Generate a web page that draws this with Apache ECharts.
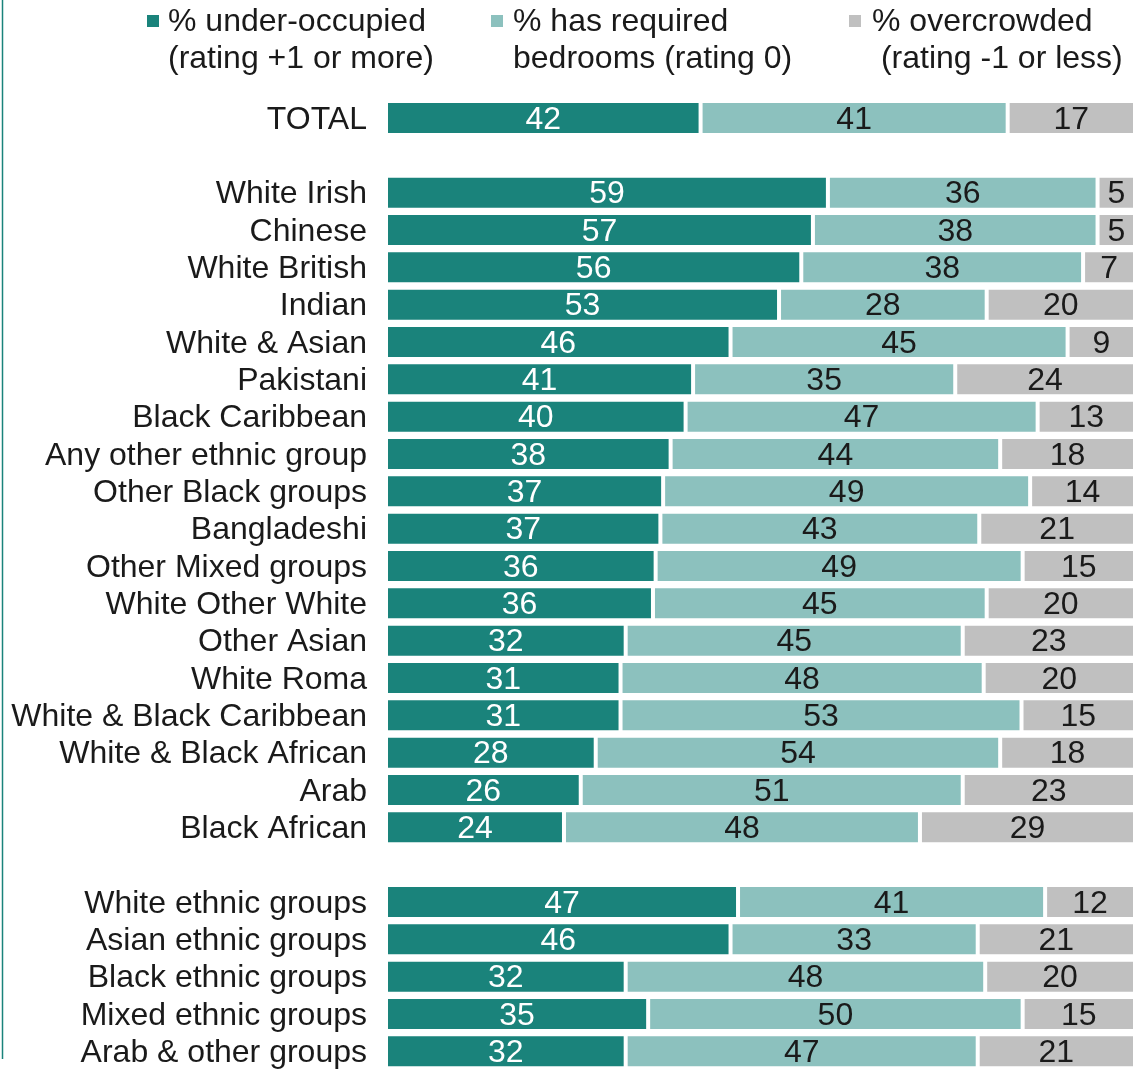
<!DOCTYPE html>
<html>
<head>
<meta charset="utf-8">
<title>Bedroom occupancy rating by ethnic group</title>
<script src="https://cdn.jsdelivr.net/npm/echarts@6/dist/echarts.min.js"></script>
<style>
  html, body { margin: 0; padding: 0; background: #ffffff; }
  #chart { width: 1142px; height: 1070px; }
</style>
</head>
<body>
<div id="chart"></div>
<script>
// Rows from top to bottom; empty strings are spacer rows between groups
const categories = [
  'TOTAL', '',
  'White Irish', 'Chinese', 'White British', 'Indian', 'White & Asian',
  'Pakistani', 'Black Caribbean', 'Any other ethnic group', 'Other Black groups',
  'Bangladeshi', 'Other Mixed groups', 'White Other White', 'Other Asian',
  'White Roma', 'White & Black Caribbean', 'White & Black African', 'Arab',
  'Black African', '',
  'White ethnic groups', 'Asian ethnic groups', 'Black ethnic groups',
  'Mixed ethnic groups', 'Arab & other groups'
];

const underOccupied = [
  42, null,
  59, 57, 56, 53, 46, 41, 40, 38, 37, 37, 36, 36, 32, 31, 31, 28, 26, 24, null,
  47, 46, 32, 35, 32
];
const requiredBedrooms = [
  41, null,
  36, 38, 38, 28, 45, 35, 47, 44, 49, 43, 49, 45, 45, 48, 53, 54, 51, 48, null,
  41, 33, 48, 50, 47
];
const overcrowded = [
  17, null,
  5, 5, 7, 20, 9, 24, 13, 18, 14, 21, 15, 20, 23, 20, 15, 18, 23, 29, null,
  12, 21, 20, 15, 21
];

const seriesNames = [
  '% under-occupied\n(rating +1 or more)',
  '% has required\nbedrooms (rating 0)',
  '% overcrowded\n (rating -1 or less)'
];
const colors = ['#1a837b', '#8cc1be', '#c0c0c0'];
const labelColors = ['#ffffff', '#1a1a1a', '#1a1a1a'];

const FONT = "'Liberation Sans', Arial, sans-serif";
const raw = [underOccupied, requiredBedrooms, overcrowded];

// Each row is shown as a 100% stack of its three shares
const rowTotals = categories.map((c, i) =>
  raw.reduce((s, arr) => s + (arr[i] == null ? 0 : arr[i]), 0));

const series = raw.map((arr, k) => ({
  name: seriesNames[k],
  type: 'bar',
  stack: 'share',
  barWidth: 34,
  itemStyle: { color: colors[k], borderColor: '#ffffff', borderWidth: 2 },
  label: {
    show: true,
    position: 'inside',
    offset: [0, 2],
    color: labelColors[k],
    fontFamily: FONT,
    fontSize: 32,
    formatter: p => (p.data && p.data.raw != null ? String(p.data.raw) : '')
  },
  data: arr.map((v, i) => v == null ? null : { value: v / rowTotals[i] * 100, raw: v })
}));

// Legend: swatch plus two-line caption for each series
const legendPos = [
  { sx: 147, tx: 168 },
  { sx: 491, tx: 513 },
  { sx: 849, tx: 872 }
];
const legendGraphics = [];
seriesNames.forEach((name, k) => {
  legendGraphics.push({
    type: 'rect',
    shape: { x: legendPos[k].sx, y: 15, width: 12, height: 12 },
    style: { fill: colors[k] }
  });
  legendGraphics.push({
    type: 'text',
    x: legendPos[k].tx,
    y: 4,
    style: {
      text: name,
      fill: '#1a1a1a',
      font: '32px ' + FONT,
      lineHeight: 37,
      textAlign: 'left',
      textVerticalAlign: 'top'
    }
  });
});
legendGraphics.push({
  type: 'line',
  shape: { x1: 2.5, y1: 0, x2: 2.5, y2: 1059 },
  style: { stroke: '#1a837b', lineWidth: 1.5 }
});

const chart = echarts.init(document.getElementById('chart'), null, { renderer: 'canvas' });
chart.setOption({
  animation: false,
  backgroundColor: '#ffffff',
  grid: { left: 386, right: 7, top: 99.3, height: 974.5, containLabel: false },
  xAxis: {
    type: 'value',
    min: 0,
    max: 100,
    show: false
  },
  yAxis: {
    type: 'category',
    inverse: true,
    data: categories,
    axisLine: { show: false },
    axisTick: { show: false },
    axisLabel: {
      color: '#1a1a1a',
      fontFamily: FONT,
      fontSize: 32,
      margin: 19,
      verticalAlign: 'top',
      lineHeight: 4,
      interval: 0
    }
  },
  series: series,
  graphic: legendGraphics
});
</script>
</body>
</html>
